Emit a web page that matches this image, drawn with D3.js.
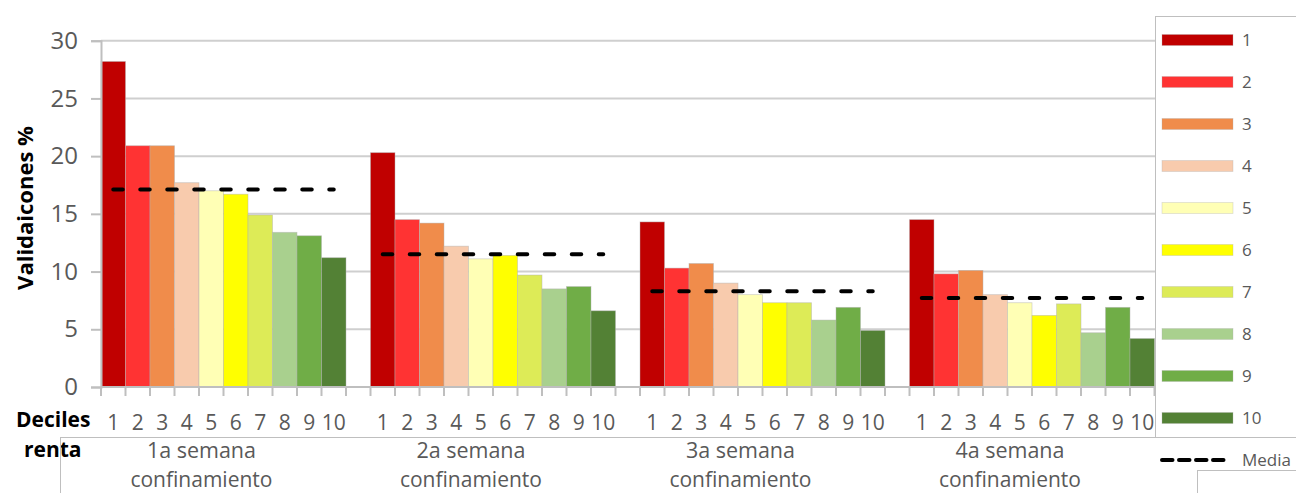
<!DOCTYPE html>
<html>
<head>
<meta charset="utf-8">
<script src="https://cdn.jsdelivr.net/npm/d3@7"></script>
<style>
  html, body { margin: 0; padding: 0; background: #fff; }
  svg { display: block; font-family: "Open Sans", sans-serif; }
</style>
</head>
<body>
<svg id="chart" width="1296" height="493"></svg>
<script>
// ---- data ----
const weeks = ["1a semana", "2a semana", "3a semana", "4a semana"];
const weekLine2 = "confinamiento";
const deciles = ["1", "2", "3", "4", "5", "6", "7", "8", "9", "10"];
const semana1 = [28.2, 20.9, 20.9, 17.7, 17.0, 16.7, 14.9, 13.4, 13.1, 11.2];
const semana2 = [20.3, 14.5, 14.2, 12.2, 11.1, 11.4, 9.7, 8.5, 8.7, 6.6];
const semana3 = [14.3, 10.3, 10.7, 9.0, 8.0, 7.3, 7.3, 5.8, 6.9, 4.9];
const semana4 = [14.5, 9.8, 10.1, 8.0, 7.3, 6.2, 7.2, 4.7, 6.9, 4.2];
const media = [17.1, 11.5, 8.3, 7.7];
const yTicks = [0, 5, 10, 15, 20, 25, 30];
const colors = ["#C00000", "#FF3333", "#F08C4B", "#F8CBAD", "#FFFFB5",
                "#FFFF00", "#DDEB57", "#A9D08E", "#70AD47", "#538135"];
const legendMedia = "Media";
const yTitle = "Validaicones %";
const xTitle = ["Deciles", "renta"];

const groups = [semana1, semana2, semana3, semana4];

// ---- layout ----
const svg = d3.select("#chart");
const pLeft = 101, pRight = 1179, pTop = 40.7, pBottom = 387;
const slotsPerGroup = deciles.length + 1;
const slotKeys = d3.range(weeks.length * slotsPerGroup);
const x = d3.scaleBand().domain(slotKeys).range([pLeft, pRight]).padding(0);
const y = d3.scaleLinear().domain([0, 30]).range([pBottom, pTop]);
const sw = x.bandwidth();
const axisGray = "#bfbfbf";
const textGray = "#595959";

// gridlines
svg.append("g").selectAll("line").data(yTicks.filter(d => d > 0)).join("line")
  .attr("x1", pLeft).attr("x2", pRight)
  .attr("y1", d => y(d)).attr("y2", d => y(d))
  .attr("stroke", "#cfcfcf").attr("stroke-width", 2);

// bars
const barData = [];
groups.forEach((vals, g) => vals.forEach((v, i) => barData.push({g, i, v})));
svg.append("g").selectAll("rect").data(barData).join("rect")
  .attr("x", d => x(d.g * slotsPerGroup + d.i))
  .attr("width", sw)
  .attr("y", d => y(d.v))
  .attr("height", d => y(0) - y(d.v))
  .attr("fill", d => colors[d.i])
  .attr("stroke", "#b0b0b0").attr("stroke-opacity", 0.55).attr("stroke-width", 0.8);

// media dashed lines
svg.append("g").selectAll("line").data(media).join("line")
  .attr("x1", (d, g) => x(g * slotsPerGroup) + sw / 2)
  .attr("x2", (d, g) => x(g * slotsPerGroup + deciles.length - 1) + sw / 2)
  .attr("y1", d => y(d)).attr("y2", d => y(d))
  .attr("stroke", "#000").attr("stroke-width", 4)
  .attr("stroke-linecap", "round").attr("stroke-dasharray", "9.5 17.5");

// y axis
const yAxis = svg.append("g").attr("transform", `translate(${pLeft},0)`)
  .call(d3.axisLeft(y).tickValues(yTicks).tickSize(10).tickPadding(13));
yAxis.select(".domain").attr("stroke", axisGray).attr("stroke-width", 2);
yAxis.selectAll(".tick line").attr("stroke", axisGray).attr("stroke-width", 2);
yAxis.selectAll(".tick text").attr("fill", textGray)
  .attr("font-size", 24).attr("font-family", "Open Sans");

// x axis line + ticks at every slot boundary
svg.append("line").attr("x1", pLeft).attr("x2", pRight)
  .attr("y1", pBottom).attr("y2", pBottom)
  .attr("stroke", axisGray).attr("stroke-width", 2);
const bounds = slotKeys.map(k => x(k)).concat([pRight]);
svg.append("g").selectAll("line").data(bounds).join("line")
  .attr("x1", d => d).attr("x2", d => d)
  .attr("y1", pBottom).attr("y2", pBottom + 9)
  .attr("stroke", axisGray).attr("stroke-width", 2);

// decile labels
const labData = [];
weeks.forEach((w, g) => deciles.forEach((dl, i) => labData.push({g, i, dl})));
svg.append("g").selectAll("text").data(labData).join("text")
  .attr("x", d => x(d.g * slotsPerGroup + d.i) + sw / 2)
  .attr("y", 430)
  .attr("text-anchor", "middle")
  .attr("font-size", 21).attr("fill", textGray)
  .text(d => d.dl);

// week labels
const wk = svg.append("g").selectAll("g").data(weeks).join("g");
wk.append("text")
  .attr("x", (d, g) => x(g * slotsPerGroup) + sw * 4.1)
  .attr("y", 457.5).attr("text-anchor", "middle")
  .attr("font-size", 21.5).attr("fill", textGray).text(d => d);
wk.append("text")
  .attr("x", (d, g) => x(g * slotsPerGroup) + sw * 4.1)
  .attr("y", 486.5).attr("text-anchor", "middle")
  .attr("font-size", 21).attr("fill", textGray).text(weekLine2);

// x title
svg.append("text").attr("x", 16).attr("y", 427)
  .attr("font-size", 21).attr("font-weight", "bold").attr("fill", "#000").text(xTitle[0]);
svg.append("text").attr("x", 24).attr("y", 457)
  .attr("font-size", 21).attr("font-weight", "bold").attr("fill", "#000").text(xTitle[1]);

// y title
svg.append("text")
  .attr("transform", "translate(33,208) rotate(-90)")
  .attr("text-anchor", "middle")
  .attr("font-size", 22).attr("font-weight", "bold").attr("fill", "#000")
  .text(yTitle);

// lower frame lines
svg.append("line").attr("x1", 60).attr("x2", 1155).attr("y1", 437.5).attr("y2", 437.5)
  .attr("stroke", axisGray).attr("stroke-width", 1);
svg.append("line").attr("x1", 60.5).attr("x2", 60.5).attr("y1", 437).attr("y2", 493)
  .attr("stroke", axisGray).attr("stroke-width", 1);

// legend
const lg = svg.append("g");
lg.append("rect").attr("x", 1155.5).attr("y", 16.5).attr("width", 160).attr("height", 421)
  .attr("fill", "#fff").attr("stroke", axisGray).attr("stroke-width", 1);
const items = lg.selectAll("g.item").data(deciles).join("g").attr("class", "item")
  .attr("transform", (d, i) => `translate(0,${40 + i * 42})`);
items.append("rect").attr("x", 1162).attr("y", -5.5).attr("width", 71).attr("height", 11)
  .attr("fill", (d, i) => colors[i])
  .attr("stroke", "#b0b0b0").attr("stroke-opacity", 0.4).attr("stroke-width", 0.8);
items.append("text").attr("x", 1242).attr("y", 0).attr("dy", "0.36em")
  .attr("font-size", 17).attr("fill", textGray).text(d => d);
const mg = lg.append("g").attr("transform", `translate(0,${40 + 10 * 42})`);
mg.append("line").attr("x1", 1162).attr("x2", 1226).attr("y1", 0).attr("y2", 0)
  .attr("stroke", "#000").attr("stroke-width", 4)
  .attr("stroke-linecap", "round").attr("stroke-dasharray", "10.5 6.5");
mg.append("text").attr("x", 1242).attr("y", 0).attr("dy", "0.36em")
  .attr("font-size", 17).attr("fill", textGray).text(legendMedia);

// bottom-right box corner
svg.append("line").attr("x1", 1197.5).attr("x2", 1296).attr("y1", 470.5).attr("y2", 470.5)
  .attr("stroke", axisGray).attr("stroke-width", 1);
svg.append("line").attr("x1", 1197.5).attr("x2", 1197.5).attr("y1", 470).attr("y2", 493)
  .attr("stroke", axisGray).attr("stroke-width", 1);
</script>
</body>
</html>
